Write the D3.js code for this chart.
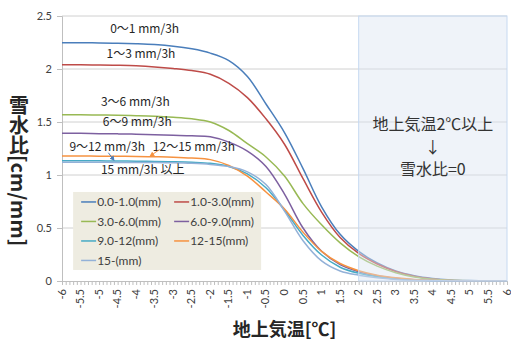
<!DOCTYPE html>
<html>
<head>
<meta charset="utf-8">
<script src="https://cdn.jsdelivr.net/npm/d3@7"></script>
<style>
	body { margin: 0; background: #fff; }
	svg { display: block; }
	text { font-family: "Noto Sans CJK JP", "Noto Sans", sans-serif; }
</style>
</head>
<body>
<div class="chart"></div>
<script>
// temperature grid (°C)
var temps = [-6, -5.5, -5, -4.5, -4, -3.5, -3, -2.5, -2, -1.5, -1, -0.5, 0,
	0.5, 1, 1.5, 2, 2.5, 3, 3.5, 4, 4.5, 5, 5.5, 6];

// snow-water ratio per precipitation class
var r0_1   = [2.248, 2.248, 2.246, 2.243, 2.238, 2.23, 2.215, 2.19, 2.15, 2.08, 1.93, 1.67, 1.40,
	1.06, 0.70, 0.44, 0.28, 0.17, 0.095, 0.05, 0.024, 0.01, 0.004, 0.001, 0];
var r1_3   = [2.04, 2.04, 2.038, 2.035, 2.03, 2.02, 2.005, 1.985, 1.95, 1.865, 1.73, 1.53, 1.29,
	0.965, 0.65, 0.41, 0.26, 0.16, 0.09, 0.045, 0.02, 0.008, 0.003, 0.001, 0];
var r3_6   = [1.568, 1.568, 1.566, 1.563, 1.56, 1.555, 1.545, 1.53, 1.50, 1.42, 1.295, 1.17, 0.99,
	0.73, 0.53, 0.36, 0.23, 0.14, 0.078, 0.038, 0.017, 0.007, 0.002, 0.001, 0];
var r6_9   = [1.393, 1.393, 1.39, 1.388, 1.385, 1.38, 1.375, 1.37, 1.36, 1.31, 1.225, 1.08, 0.82,
	0.50, 0.28, 0.155, 0.088, 0.05, 0.026, 0.012, 0.005, 0.002, 0.001, 0, 0];
var r9_12  = [1.135, 1.135, 1.134, 1.132, 1.13, 1.128, 1.125, 1.12, 1.11, 1.08, 1.01, 0.88, 0.67,
	0.43, 0.245, 0.13, 0.073, 0.04, 0.02, 0.01, 0.004, 0.002, 0.001, 0, 0];
var r12_15 = [1.18, 1.18, 1.178, 1.177, 1.175, 1.172, 1.168, 1.16, 1.145, 1.09, 0.99, 0.84, 0.68,
	0.46, 0.28, 0.165, 0.097, 0.055, 0.03, 0.015, 0.007, 0.003, 0.001, 0, 0];
var r15    = [1.12, 1.12, 1.12, 1.119, 1.118, 1.117, 1.115, 1.11, 1.10, 1.08, 1.03, 0.91, 0.66,
	0.38, 0.19, 0.095, 0.055, 0.03, 0.015, 0.007, 0.003, 0.001, 0, 0, 0];

var seriesNames = ["0.0-1.0(mm)", "1.0-3.0(mm)", "3.0-6.0(mm)", "6.0-9.0(mm)",
	"9.0-12(mm)", "12-15(mm)", "15-(mm)"];
var seriesValues = [r0_1, r1_3, r3_6, r6_9, r9_12, r12_15, r15];
var seriesColors = ["#4A7EBB", "#BE4B48", "#98B954", "#7D60A0", "#46AAC5", "#F69240", "#93B1D8"];

var xTicks = d3.range(-6, 6.01, 0.5);
var yTicks = [0, 0.5, 1, 1.5, 2, 2.5];

var curveLabels = [
	{text: "0～1 mm/3h",    x: -4.7, y: 2.34},
	{text: "1～3 mm/3h",    x: -4.8, y: 2.10},
	{text: "3～6 mm/3h",    x: -4.95, y: 1.65},
	{text: "6～9 mm/3h",    x: -4.9, y: 1.46},
	{text: "9～12 mm/3h",   x: -5.8, y: 1.23},
	{text: "12～15 mm/3h",  x: -3.55, y: 1.23},
	{text: "15 mm/3h 以上", x: -4.95, y: 1.005}
];

var W = 511, H = 340;
var margin = {top: 16, right: 4, bottom: 59, left: 62};
var width = W - margin.left - margin.right,
	height = H - margin.top - margin.bottom;

var svg = d3.select(".chart").append("svg")
	.attr("width", W)
	.attr("height", H)
	.append("g")
	.attr("transform", "translate(" + margin.left + "," + margin.top + ")");

var x = d3.scaleLinear().domain([-6, 6]).range([0, width]);
var y = d3.scaleLinear().domain([0, 2.5]).range([height, 0]);

// horizontal gridlines
svg.selectAll("line.grid").data(yTicks.slice(1)).enter().append("line")
	.attr("class", "grid")
	.attr("x1", 0).attr("x2", width)
	.attr("y1", function (d) { return y(d); })
	.attr("y2", function (d) { return y(d); })
	.attr("stroke", "#d0d0d0").attr("stroke-width", 1);

// y axis
var yAxis = d3.axisLeft(y).tickValues(yTicks).tickSize(5).tickPadding(5)
	.tickFormat(function (d) { return d; });
var gy = svg.append("g").call(yAxis);
gy.select(".domain").attr("stroke", "#bfbfbf");
gy.selectAll(".tick line").attr("stroke", "#bfbfbf");
gy.selectAll("text").attr("fill", "#404040").style("font-size", "11px")
	.style("font-family", "Lato, sans-serif");

// x axis: minor ticks every 0.1
var gx = svg.append("g").attr("transform", "translate(0," + height + ")");
gx.call(d3.axisBottom(x).tickValues(d3.range(-6, 6.001, 0.1)).tickSize(4).tickFormat(""));
gx.select(".domain").attr("stroke", "#bfbfbf");
gx.selectAll(".tick line").attr("stroke", "#bfbfbf");

var gxl = svg.append("g").attr("transform", "translate(0," + height + ")");
gxl.selectAll("text").data(xTicks).enter().append("text")
	.attr("transform", function (d) { return "translate(" + (x(d) + 3.5) + ",8) rotate(-90)"; })
	.attr("text-anchor", "end")
	.attr("fill", "#404040")
	.style("font-size", "11px")
	.style("font-family", "Lato, sans-serif")
	.text(function (d) { return d; });

// curves
var line = d3.line()
	.x(function (d, i) { return x(temps[i]); })
	.y(function (d) { return y(d); })
	.curve(d3.curveCatmullRom.alpha(0.5));

svg.selectAll("path.series").data(seriesValues).enter().append("path")
	.attr("class", "series")
	.attr("d", line)
	.attr("fill", "none")
	.attr("stroke", function (d, i) { return seriesColors[i]; })
	.attr("stroke-width", 1.5);

// shaded region for T >= 2
svg.append("rect")
	.attr("x", x(2)).attr("y", 0)
	.attr("width", x(6) - x(2)).attr("height", height)
	.attr("fill", "#dbe5f1").attr("fill-opacity", 0.45)
	.attr("stroke", "#c6d9f1").attr("stroke-width", 1);

var note = svg.append("text")
	.attr("text-anchor", "middle")
	.attr("fill", "#333")
	.style("font-size", "16px");
note.append("tspan").attr("x", x(4)).attr("y", y(1.42)).text("地上気温2℃以上");
note.append("tspan").attr("x", x(4)).attr("y", y(1.21)).text("↓");
note.append("tspan").attr("x", x(4)).attr("y", y(1.0)).text("雪水比=0");

// curve labels
svg.selectAll("text.clabel").data(curveLabels).enter().append("text")
	.attr("class", "clabel")
	.attr("x", function (d) { return x(d.x); })
	.attr("y", function (d) { return y(d.y); })
	.attr("fill", "#262626")
	.style("font-size", "12px")
	.text(function (d) { return d.text; });

// small pointer arrows
svg.append("defs").selectAll("marker").data([["a1", "#4A7EBB"], ["a2", "#F69240"]]).enter()
	.append("marker")
	.attr("id", function (d) { return d[0]; })
	.attr("viewBox", "0 0 10 10").attr("refX", 8).attr("refY", 5)
	.attr("markerWidth", 5).attr("markerHeight", 5).attr("orient", "auto")
	.append("path").attr("d", "M0,0L10,5L0,10z").attr("fill", function (d) { return d[1]; });

svg.append("line")
	.attr("x1", x(-4.75)).attr("y1", y(1.21))
	.attr("x2", x(-4.6)).attr("y2", y(1.14))
	.attr("stroke", "#4A7EBB").attr("stroke-width", 1).attr("marker-end", "url(#a1)");
svg.append("line")
	.attr("x1", x(-3.37)).attr("y1", y(1.24))
	.attr("x2", x(-3.62)).attr("y2", y(1.18))
	.attr("stroke", "#F69240").attr("stroke-width", 1).attr("marker-end", "url(#a2)");

// legend
var legend = svg.append("g").attr("transform", "translate(" + (x(-5.7)) + "," + (y(0.84)) + ")");
legend.append("rect")
	.attr("width", 188).attr("height", 78)
	.attr("fill", "#eeece1");
var item = legend.selectAll("g.item").data(seriesNames).enter().append("g")
	.attr("class", "item")
	.attr("transform", function (d, i) {
		return "translate(" + (i % 2 ? 101 : 8) + "," + (10 + Math.floor(i / 2) * 19.5) + ")";
	});
item.append("line")
	.attr("x1", 0).attr("x2", 15)
	.attr("stroke", function (d, i) { return seriesColors[i]; })
	.attr("stroke-width", 1.5);
item.append("text")
	.attr("x", 16).attr("dy", "0.35em")
	.attr("fill", "#404040")
	.style("font-size", "12px")
	.style("font-family", "Lato, sans-serif")
	.text(function (d) { return d; });

// axis titles
svg.append("text")
	.attr("x", x(0)).attr("y", height + 55)
	.attr("text-anchor", "middle")
	.attr("fill", "#262626")
	.style("font-size", "18px").style("font-weight", "bold")
	.text("地上気温[℃]");

svg.append("text")
	.attr("x", -43).attr("y", 95 - margin.top)
	.attr("fill", "#262626")
	.style("writing-mode", "vertical-rl")
	.style("font-size", "20px").style("font-weight", "bold")
	.text("雪水比[cm/mm]");
</script>
</body>
</html>
